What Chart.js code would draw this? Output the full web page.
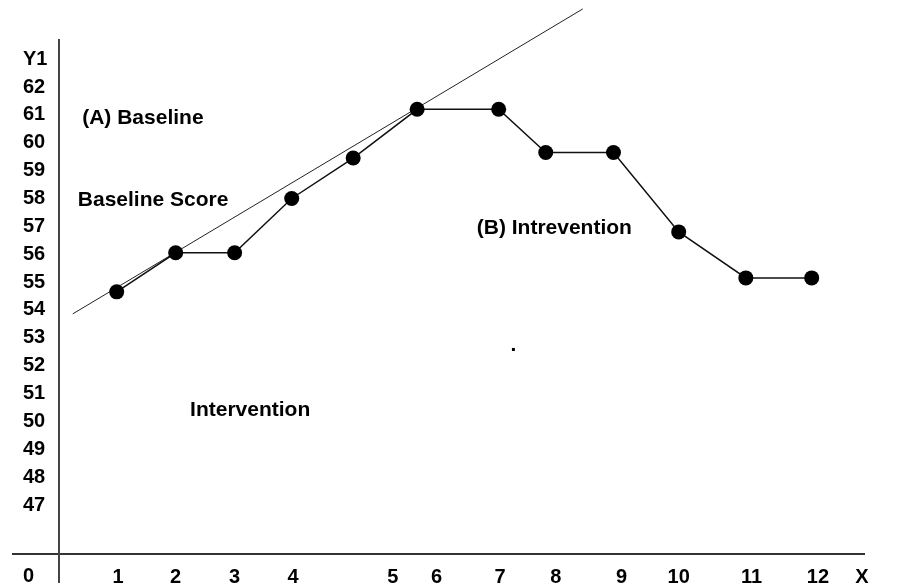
<!DOCTYPE html>
<html><head><meta charset="utf-8">
<script src="https://cdn.jsdelivr.net/npm/chart.js@4/dist/chart.umd.min.js"></script>
<style>html,body{margin:0;padding:0;background:#fff;}canvas{display:block;}</style>
</head><body>
<canvas id="c" width="903" height="583"></canvas>
<script>
// ---- data ----
const sessionX = [0.92, 1.86, 2.80, 3.71, 4.69, 5.71, 7.01, 7.76, 8.84, 9.88, 10.95, 12.0];
const scores   = [54.65, 56.05, 56.05, 58.0, 59.45, 61.2, 61.2, 59.65, 59.65, 56.8, 55.15, 55.15];
const trendX = [0.22, 8.35];
const trendY = [53.86, 64.8];
const xTickLabels    = ['1','2','3','4','5','6','7','8','9','10','11','12','X'];
const xTickPositions = [0.94, 1.86, 2.80, 3.73, 5.32, 6.02, 7.03, 7.92, 8.97, 9.88, 11.04, 12.10, 12.80];
const yTickLabels    = ['0','47','48','49','50','51','52','53','54','55','56','57','58','59','60','61','62','Y1'];
const yTickPositions = [44.42, 47, 48, 49, 50, 51, 52, 53, 54, 55, 56, 57, 58, 59, 60, 61, 62, 63];
const xAxisAt = 45.24;
const noteTexts = ['(A) Baseline', 'Baseline Score', '(B) Intrevention', 'Intervention', '.'];
const noteX = [0.37, 0.30, 6.66, 2.09, 7.20];
const noteY = [60.89, 57.95, 56.94, 50.41, 52.74];

const FONT = '"Liberation Sans", Arial, sans-serif';

const notesPlugin = {
  id: 'notes',
  afterDatasetsDraw(chart) {
    const {ctx, scales} = chart;
    ctx.save();
    ctx.font = 'bold 21px ' + FONT;
    ctx.fillStyle = '#000';
    ctx.textAlign = 'left';
    ctx.textBaseline = 'middle';
    noteTexts.forEach((t, i) => {
      ctx.fillText(t, scales.x.getPixelForValue(noteX[i]), scales.y.getPixelForValue(noteY[i]));
    });
    ctx.restore();
  }
};

new Chart(document.getElementById('c'), {
  type: 'line',
  data: {
    datasets: [
      {
        data: sessionX.map((x, i) => ({x, y: scores[i]})),
        borderColor: '#111', borderWidth: 1.5,
        pointRadius: 7.5, pointBackgroundColor: '#000', pointBorderWidth: 0,
        tension: 0
      },
      {
        data: trendX.map((x, i) => ({x, y: trendY[i]})),
        borderColor: '#222', borderWidth: 1,
        pointRadius: 0, tension: 0, clip: false
      }
    ]
  },
  options: {
    responsive: false, animation: false, devicePixelRatio: 1,
    layout: {autoPadding: false, padding: {top: 40, left: 23, right: 38, bottom: 0}},
    plugins: {legend: {display: false}, tooltip: {enabled: false}},
    scales: {
      x: {
        type: 'linear', position: {y: xAxisAt}, min: 0, max: 12.85,
        afterFit: s => { s.height = 0; s.paddingLeft = 0; s.paddingRight = 0; },
        afterBuildTicks: s => { s.ticks = xTickPositions.map(v => ({value: v})); },
        grid: {display: false, drawTicks: false},
        border: {display: false},
        ticks: {
          autoSkip: false, maxRotation: 0, minRotation: 0, padding: 11,
          color: '#000', font: {family: FONT, size: 20, weight: 'bold'},
          callback: (v, i) => xTickLabels[i]
        }
      },
      y: {
        type: 'linear', position: 'left', min: 44.203, max: 63.686,
        afterFit: s => { s.width = 36; s.paddingTop = 0; s.paddingBottom = 0; },
        afterBuildTicks: s => {
          s.ticks = yTickPositions.concat([xAxisAt]).sort((a, b) => a - b).map(v => ({value: v}));
        },
        grid: {
          display: true, drawOnChartArea: true, drawTicks: true, tickLength: 47, lineWidth: 2,
          color: c => (c.tick && c.tick.value === xAxisAt) ? '#333' : 'rgba(0,0,0,0)'
        },
        border: {display: true, color: '#444', width: 2},
        ticks: {
          autoSkip: false, crossAlign: 'far', padding: 4,
          color: '#000', font: {family: FONT, size: 20, weight: 'bold'},
          callback: v => { const k = yTickPositions.indexOf(v); return k < 0 ? '' : yTickLabels[k]; }
        }
      }
    }
  },
  plugins: [notesPlugin]
});
</script>
</body></html>
